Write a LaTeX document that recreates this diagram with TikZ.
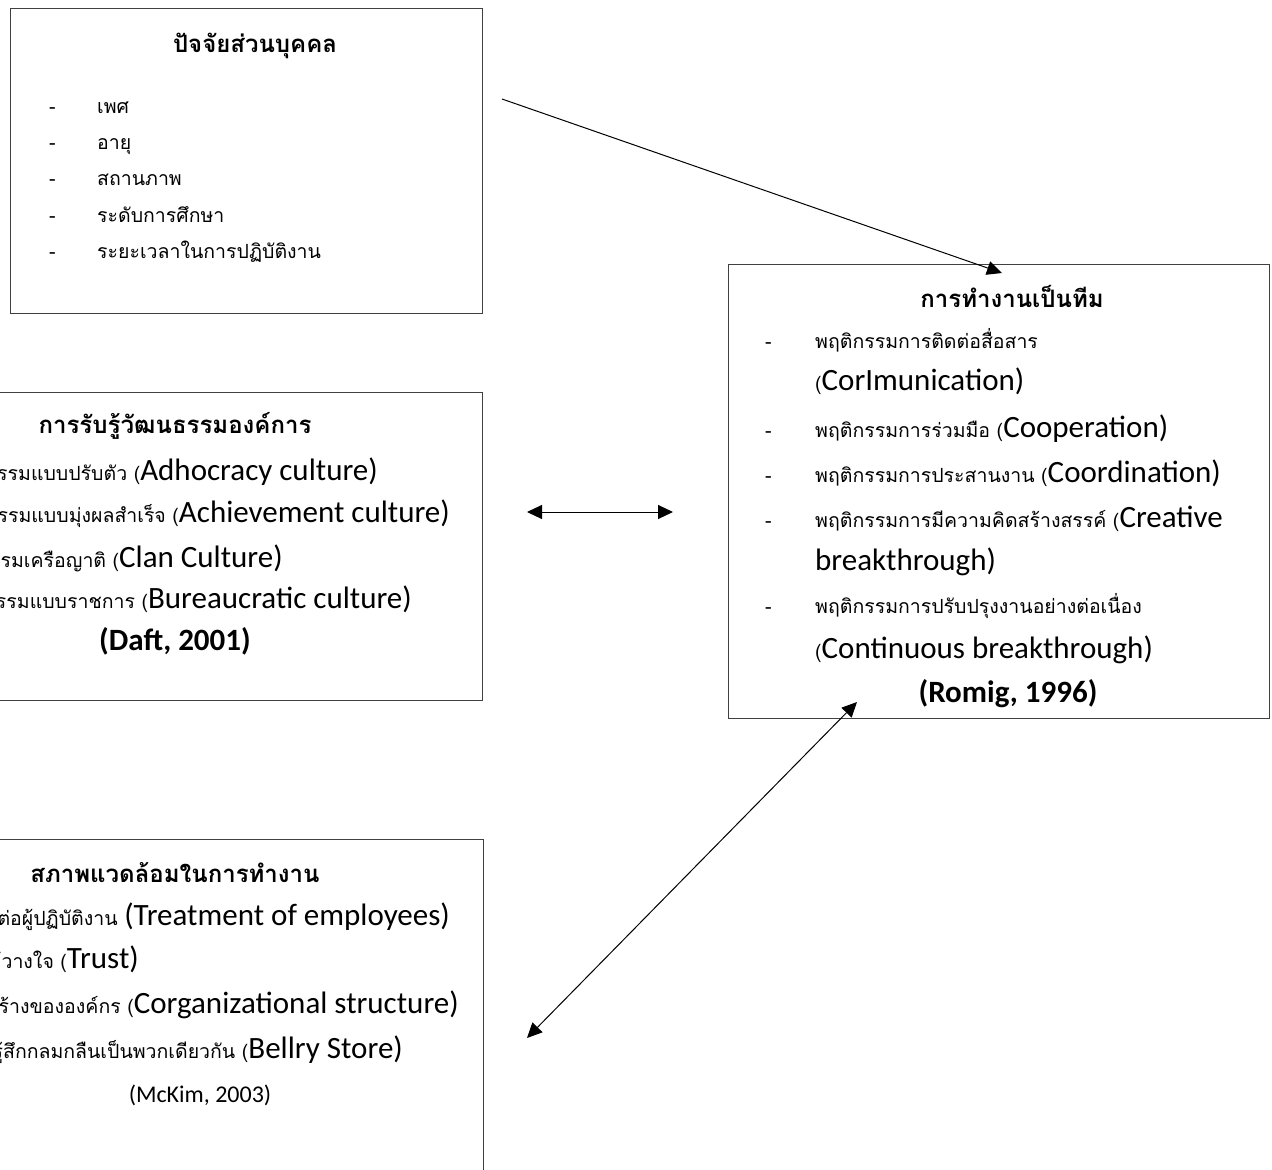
\documentclass[tikz,border=0pt]{standalone}
\usepackage{fontspec}
\setmainfont{Carlito}
\newfontfamily\thf[Script=Thai]{Loma}
\usetikzlibrary{arrows.meta}
\newcommand\thx[1]{{\thf\fontsize{19.5}{24}\selectfont #1}}
\newcommand\thh[1]{{\thf\bfseries\fontsize{24}{29}\selectfont #1}}
\newcommand\en[1]{{\fontsize{31}{36}\selectfont #1}}
\newcommand\enb[1]{{\bfseries\fontsize{31}{36}\selectfont #1}}
\tikzset{
  box/.style={draw=black!75, line width=1pt, inner sep=0pt, rectangle},
  txt/.style={inner sep=0pt, anchor=base west},
  txr/.style={inner sep=0pt, anchor=base east},
  txc/.style={inner sep=0pt, anchor=base},
  conn/.style={line width=1pt, -{Triangle[length=15pt,width=14pt]}},
  dconn/.style={line width=1pt, {Triangle[length=15pt,width=14pt]}-{Triangle[length=15pt,width=14pt]}}
}
\begin{document}
\begin{tikzpicture}[x=1pt,y=-1pt]
\useasboundingbox (0,0) rectangle (1272,1170);
\clip (0,0) rectangle (1272,1170);
\fill[white] (0,0) rectangle (1272,1170);
% boxes
\node[box, minimum width=472pt, minimum height=305pt] (b1) at (246,160.5) {};
\node[box, minimum width=782pt, minimum height=308pt] (b2) at (91,546) {};
\node[box, minimum width=783pt, minimum height=461pt] (b3) at (91.5,1069.5) {};
\node[box, minimum width=541pt, minimum height=454pt] (b4) at (998.5,491) {};
% box 1
\node[txc] (t1h) at (255,52) {\thh{ปัจจัยส่วนบุคคล}};
\node[txt] (t1d1) at (49,113) {\thx{-}};
\node[txt] (t1a) at (97,113) {\thx{เพศ}};
\node[txt] (t1d2) at (49,149) {\thx{-}};
\node[txt] (t1b) at (97,149) {\thx{อายุ}};
\node[txt] (t1d3) at (49,185) {\thx{-}};
\node[txt] (t1c) at (97,185) {\thx{สถานภาพ}};
\node[txt] (t1d4) at (49,222) {\thx{-}};
\node[txt] (t1d) at (97,222) {\thx{ระดับการศึกษา}};
\node[txt] (t1d5) at (49,258) {\thx{-}};
\node[txt] (t1e) at (97,258) {\thx{ระยะเวลาในการปฏิบัติงาน}};
% box 2
\node[txc] (t2h) at (175,433) {\thh{การรับรู้วัฒนธรรมองค์การ}};
\node[txr] (t2a) at (378,480) {\thx{วัฒนธรรมแบบปรับตัว (}\en{Adhocracy culture)}};
\node[txr] (t2b) at (450,522) {\thx{วัฒนธรรมแบบมุ่งผลสำเร็จ (}\en{Achievement culture)}};
\node[txr] (t2c) at (283,567) {\thx{วัฒนธรรมเครือญาติ (}\en{Clan Culture)}};
\node[txr] (t2d) at (412,608) {\thx{วัฒนธรรมแบบราชการ (}\en{Bureaucratic culture)}};
\node[txc] (t2r) at (175,650) {\enb{(Daft, 2001)}};
% box 3
\node[txc] (t3h) at (175,882) {\thh{สภาพแวดล้อมในการทำงาน}};
\node[txr] (t3a) at (450,925) {\thx{การปฏิบัติต่อผู้ปฏิบัติงาน }\en{(Treatment of employees)}};
\node[txr] (t3b) at (139,968) {\thx{ความไว้วางใจ (}\en{Trust)}};
\node[txr] (t3c) at (459,1013) {\thx{โครงสร้างขององค์กร (}\en{Corganizational structure)}};
\node[txr] (t3d) at (403,1058) {\thx{ความรู้สึกกลมกลืนเป็นพวกเดียวกัน (}\en{Bellry Store)}};
\node[txc] (t3r) at (200,1102) {\fontsize{24}{28}\selectfont (McKim, 2003)};
% box 4
\node[txc] (t4h) at (1012,307) {\thh{การทำงานเป็นทีม}};
\node[txt] (t4d1) at (765,348) {\thx{-}};
\node[txt] (t4a) at (815,348) {\thx{พฤติกรรมการติดต่อสื่อสาร}};
\node[txt] (t4a2) at (815,390) {\thx{(}\en{CorImunication)}};
\node[txt] (t4d2) at (765,437) {\thx{-}};
\node[txt] (t4b) at (815,437) {\thx{พฤติกรรมการร่วมมือ (}\en{Cooperation)}};
\node[txt] (t4d3) at (765,482) {\thx{-}};
\node[txt] (t4c) at (815,482) {\thx{พฤติกรรมการประสานงาน (}\en{Coordination)}};
\node[txt] (t4d4) at (765,527) {\thx{-}};
\node[txt] (t4d) at (815,527) {\thx{พฤติกรรมการมีความคิดสร้างสรรค์ (}\en{Creative}};
\node[txt] (t4d2l) at (815,570) {\en{breakthrough)}};
\node[txt] (t4d5) at (765,613) {\thx{-}};
\node[txt] (t4e) at (815,613) {\thx{พฤติกรรมการปรับปรุงงานอย่างต่อเนื่อง}};
\node[txt] (t4e2) at (815,658) {\thx{(}\en{Continuous breakthrough)}};
\node[txc] (t4r) at (1008,702) {\enb{(Romig, 1996)}};
% connectors
\coordinate (a1s) at (502,99);
\coordinate (a1e) at (1002,273);
\coordinate (h1) at (527,512);
\coordinate (h2) at (673,512);
\coordinate (d1) at (857,702);
\coordinate (d2) at (527,1038);
\draw[conn] (a1s) -- (a1e);
\draw[dconn] (h1) -- (h2);
\draw[dconn] (d2) -- (d1);
\end{tikzpicture}
\end{document}
